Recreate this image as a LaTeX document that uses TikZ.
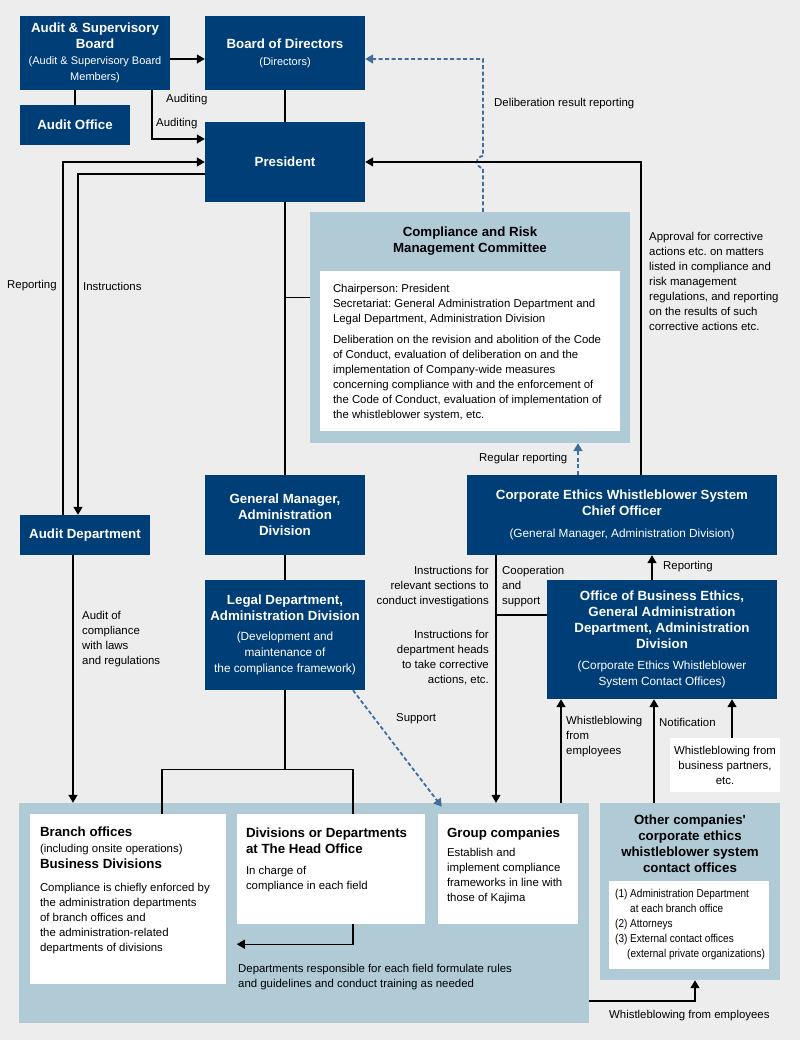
\documentclass[tikz,border=0pt]{standalone}
\usepackage{fontspec}
\setmainfont{Liberation Sans}
\newfontfamily\narrowsans[FakeStretch=0.88]{Liberation Sans}
\newfontfamily\rawsans[Ligatures=TeXOff]{Liberation Sans}
\usetikzlibrary{arrows.meta,positioning}
\frenchspacing

\definecolor{kjblue}{RGB}{0,62,120}
\definecolor{kjpanel}{RGB}{176,202,214}
\definecolor{kjback}{RGB}{237,237,237}
\definecolor{kjdash}{RGB}{62,110,160}

\newcommand\txtbody{\fontsize{11.4}{15}\selectfont}
\newcommand\txthead{\bfseries\fontsize{13.3}{16}\selectfont}
\newcommand\txtsub{\mdseries\fontsize{11.8}{16}\selectfont}
\newcommand\txtsmall{\mdseries\fontsize{11}{16}\selectfont}

\tikzset{
  bluebox/.style={fill=kjblue, text=white, font=\txthead, align=flush center, inner sep=0pt},
  panel/.style={fill=kjpanel, inner sep=0pt},
  whitebox/.style={fill=white, inner sep=0pt},
  txt/.style={font=\txtbody, inner sep=0pt, align=flush left},
  conn/.style={draw=black, line width=1.3pt},
  arr/.style={conn, -{Triangle[length=8pt,width=9pt]}},
  dasharr/.style={draw=kjdash, line width=1.8pt, dash pattern=on 4pt off 2.5pt,
    -{Triangle[length=8pt,width=9pt]}},
}

\begin{document}
\begin{tikzpicture}[x=1pt, y=-1pt]
% background
\fill[kjback] (0,0) rectangle (800,1040);

% top row
\node[bluebox, minimum width=150, minimum height=74, text width=150] (asb) at (95,53)
  {Audit \& Supervisory\\Board\\{\txtsmall (Audit \& Supervisory Board\\Members)}};
\node[bluebox, minimum width=160, minimum height=74, text width=160] (bod) at (285,53)
  {Board of Directors\\[1pt]{\txtsmall (Directors)}};
\node[bluebox, minimum width=110, minimum height=40, text width=110] (aoff) at (75,125) {Audit Office};
\node[bluebox, minimum width=160, minimum height=80, text width=160] (pres) at (285,162) {President};

% committee
\node[panel, minimum width=320, minimum height=231] (crmc) at (470,327.5) {};
\node[font=\txthead, align=center, inner sep=0pt] (crmctitle) at (470,241)
  {Compliance and Risk\\Management Committee};
\node[whitebox, minimum width=300, minimum height=160] (crmcin) at (470,351) {};
\node[txt, text width=290, below right=13.5pt and 13pt of crmcin.north west] (crmctext)
  {Chairperson: President\\
   Secretariat: General Administration Department and\\
   Legal Department, Administration Division\\[6pt]
   Deliberation on the revision and abolition of the Code\\
   of Conduct, evaluation of deliberation on and the\\
   implementation of Company-wide measures\\
   concerning compliance with and the enforcement of\\
   the Code of Conduct, evaluation of implementation of\\
   the whistleblower system, etc.};

% middle
\node[bluebox, minimum width=160, minimum height=80, text width=160] (gm) at (285,515)
  {General Manager,\\Administration\\Division};
\node[bluebox, minimum width=160, minimum height=110, text width=160] (legal) at (285,635)
  {Legal Department,\\Administration Division\\[4pt]{\txtsub (Development and\\maintenance of\\the compliance framework)}};
\node[bluebox, minimum width=130, minimum height=40, text width=130] (adept) at (85,535) {Audit Department};

% whistleblower system
\node[bluebox, minimum width=310, minimum height=80, text width=310] (cco) at (622,515)
  {Corporate Ethics Whistleblower System\\Chief Officer\\[6pt]{\txtsub (General Manager, Administration Division)}};
\node[bluebox, minimum width=230, minimum height=119, text width=230] (obe) at (662,639.5)
  {Office of Business Ethics,\\General Administration\\Department, Administration\\Division\\[5pt]{\txtsub (Corporate Ethics Whistleblower\\System Contact Offices)}};
\node[whitebox, font=\txtbody, align=flush center, minimum width=110, minimum height=54, text width=110] (bp) at (725,765)
  {Whistleblowing from\\business partners,\\etc.};

% bottom panel
\node[panel, minimum width=570, minimum height=220] (bpanel) at (304,913) {};
\node[whitebox, minimum width=196, minimum height=170] (branch) at (128,899) {};
\node[whitebox, minimum width=188, minimum height=110] (hq) at (331,869) {};
\node[whitebox, minimum width=140, minimum height=110] (grp) at (508,869) {};
\node[txt, text width=182, below right=13pt and 10pt of branch.north west] (branchtext)
  {{\txthead Branch offices}\\[1pt]
   (including onsite operations)\\[1pt]
   {\txthead Business Divisions}\\[8pt]
   Compliance is chiefly enforced by\\
   the administration departments\\
   of branch offices and\\
   the administration-related\\
   departments of divisions};
\node[txt, text width=175, below right=14pt and 9pt of hq.north west] (hqtext)
  {{\txthead Divisions or Departments\\[1pt]at The Head Office}\\[6pt]
   In charge of\\compliance in each field};
\node[txt, text width=130, below right=14pt and 9pt of grp.north west] (grptext)
  {{\txthead Group companies}\\[4pt]
   Establish and\\implement compliance\\frameworks in line with\\those of Kajima};

% other companies
\node[panel, minimum width=180, minimum height=177] (other) at (690,891.5) {};
\node[font=\txthead, align=center, inner sep=0pt] (othertitle) at (690,844)
  {Other companies{\rawsans '}\\corporate ethics\\whistleblower system\\contact offices};
\node[whitebox, minimum width=160, minimum height=88] (otherin) at (689,925) {};
\node[txt, font=\narrowsans\txtbody, anchor=west] (othertext) at (615,925)
  {(1) Administration Department\\\hspace*{15pt}at each branch office\\(2) Attorneys\\(3) External contact offices\\\hspace*{12pt}(external private organizations)};

% labels
\node[txt, anchor=west] (lauda) at (166,100) {Auditing};
\node[txt, anchor=west] (laudb) at (156,124) {Auditing};
\node[txt, anchor=west] (ldelib) at (494,104) {Deliberation result reporting};
\node[txt, anchor=west] (lrep) at (7,286) {Reporting};
\node[txt, anchor=west] (linstr) at (83,286) {Instructions};
\node[txt, anchor=west] (lappr) at (649,281)
  {Approval for corrective\\actions etc. on matters\\listed in compliance and\\risk management\\regulations, and reporting\\on the results of such\\corrective actions etc.};
\node[txt, anchor=west] (lregular) at (479,459) {Regular reporting};
\node[txt, anchor=west] (laudit) at (82,639) {Audit of\\compliance\\with laws\\and regulations};
\node[txt, anchor=east, align=right] (linva) at (489,587)
  {Instructions for\\relevant sections to\\conduct investigations};
\node[txt, anchor=west] (lcoop) at (502,587) {Cooperation\\and\\support};
\node[txt, anchor=east, align=right] (linvb) at (489,658)
  {Instructions for\\department heads\\to take corrective\\actions, etc.};
\node[txt, anchor=west] (lrepb) at (663,567) {Reporting};
\node[txt, anchor=west] (lsupport) at (396,719) {Support};
\node[txt, anchor=west] (lwbemp) at (566,737) {Whistleblowing\\from\\employees};
\node[txt, anchor=west] (lnotif) at (659,722) {Notification};
\node[txt, anchor=west] (ldepts) at (238,977)
  {Departments responsible for each field formulate rules\\and guidelines and conduct training as needed};
\node[txt, anchor=west] (lwbemp2) at (609,1016) {Whistleblowing from employees};

% connectors
\draw[arr] ([yshift=-6]asb.east) -- ([yshift=-6]bod.west);
\draw[conn] (aoff.north) -- (aoff.north |- asb.south);
\draw[conn] (bod.south) -- (pres.north);
\draw[arr] ([xshift=57]asb.south) |- ([yshift=23]pres.west);
\draw[arr] ([xshift=-22]adept.north) |- (pres.west);
\draw[arr] ([yshift=-12]pres.west) -| ([xshift=-7]adept.north);
\draw[conn] (pres.south) -- (gm.north);
\coordinate (cj) at ([yshift=30]crmc.west);
\draw[conn] (cj) -- (cj -| pres.south);

\coordinate (dl) at ([xshift=13]crmc.north);
\coordinate (dh) at (dl |- pres.east);
\coordinate (bd) at ([yshift=-6]bod.east);
\draw[dasharr] (dl) -- ([yshift=-6]dh) arc[start angle=270, end angle=90, radius=6pt]
  -- (dl |- bd) -- (bd);
\draw[arr] ([xshift=19]cco.north) |- (pres.east);
\coordinate (rr) at ([xshift=-44]cco.north);
\draw[dasharr] (rr) -- (rr |- crmc.south);

\draw[conn] (gm.south) -- (legal.north);
\coordinate (lj) at ([yshift=-79]legal.south);
\draw[conn] (legal.south) -- (lj);
\draw[conn] ([xshift=34]branch.north) |- (lj) -| ([xshift=22]hq.north);
\coordinate (ad) at ([xshift=-12]adept.south);
\draw[arr] (ad) -- (ad |- bpanel.north);
\draw[dasharr] ([xshift=68]legal.south) -- ([xshift=4,yshift=7]grp.north west);

\coordinate (ci) at ([xshift=-126]cco.south);
\draw[arr] (ci) -- (ci |- bpanel.north);
\coordinate (co) at ([yshift=24.5]obe.west);
\draw[conn] (co) -- (co -| ci);
\coordinate (ob) at ([xshift=-10]obe.north);
\draw[arr] (ob) -- (ob |- cco.south);
\coordinate (we) at ([xshift=-101]obe.south);
\draw[arr] (we |- bpanel.north) -- (we);
\coordinate (nt) at ([xshift=-8]obe.south);
\draw[arr] (nt |- other.north) -- (nt);
\coordinate (bq) at ([xshift=7]bp.north);
\draw[arr] (bq) -- (bq |- obe.south);

\coordinate (hd) at ([xshift=22,yshift=-20]hq.south);
\draw[arr] ([xshift=22]hq.south) -- (hd) -- (hd -| hq.west);
\coordinate (bw) at ([yshift=-88]bpanel.east);
\draw[arr] (bw) -| ([xshift=5]other.south);
\end{tikzpicture}
\end{document}
